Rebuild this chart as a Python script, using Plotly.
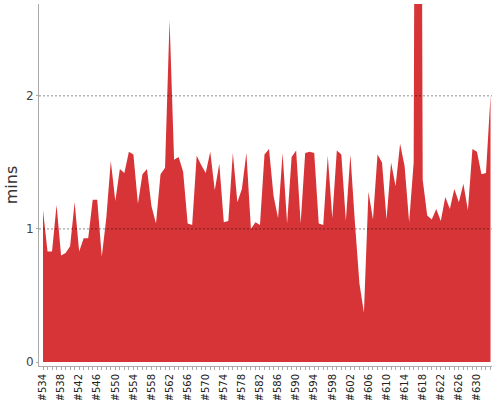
import plotly.graph_objects as go

builds = ["#%d" % n for n in range(534, 634)]
durations = [
    1.14, 0.83, 0.83, 1.18, 0.80, 0.82, 0.87, 1.20, 0.83, 0.93,
    0.93, 1.22, 1.22, 0.79, 1.08, 1.51, 1.21, 1.45, 1.42, 1.58,
    1.56, 1.19, 1.41, 1.45, 1.17, 1.04, 1.41, 1.46, 2.57, 1.52,
    1.54, 1.43, 1.04, 1.03, 1.55, 1.48, 1.42, 1.58, 1.29, 1.49,
    1.05, 1.06, 1.57, 1.20, 1.30, 1.57, 1.00, 1.05, 1.03, 1.56,
    1.60, 1.25, 1.08, 1.57, 1.04, 1.54, 1.59, 1.04, 1.57, 1.58,
    1.57, 1.04, 1.03, 1.55, 1.08, 1.59, 1.56, 1.06, 1.56, 1.05,
    0.59, 0.37, 1.28, 1.07, 1.56, 1.50, 1.07, 1.50, 1.32, 1.64,
    1.47, 1.05, 1.50, 12.0, 1.37, 1.10, 1.07, 1.15, 1.06, 1.24,
    1.15, 1.30, 1.20, 1.34, 1.14, 1.60, 1.58, 1.41, 1.42, 2.00,
]
y_ticks = [0, 1, 2]
label_every = 4

fig = go.Figure()
fig.add_trace(go.Scatter(
    x=builds, y=durations, mode="none", fill="tozeroy",
    fillcolor="#d73437", hoverinfo="skip",
))

for v in y_ticks[1:]:
    fig.add_shape(type="line", xref="paper", x0=0, x1=1, yref="y", y0=v, y1=v,
                  line=dict(color="rgba(0,0,0,0.45)", width=1, dash="2px,2px"),
                  layer="above")

fig.update_layout(
    width=500, height=400,
    margin=dict(l=39, r=8, t=4, b=34),
    paper_bgcolor="white", plot_bgcolor="white",
    showlegend=False,
    font=dict(family="DejaVu Sans", color="#444"),
)
fig.update_xaxes(
    type="category",
    automargin=False,
    range=[-0.885, 99.33],
    tickmode="array",
    tickvals=builds,
    ticktext=[b if i % label_every == 0 else "" for i, b in enumerate(builds)],
    tickangle=-90,
    tickfont=dict(size=10, color="#222"),
    ticks="outside", ticklen=3, tickcolor="#aaa",
    showline=True, linecolor="#aaa", linewidth=1,
    showgrid=False, zeroline=False,
)
fig.update_yaxes(
    automargin=False,
    range=[-0.03, 2.69],
    tickmode="array", tickvals=y_ticks,
    tickfont=dict(size=12, color="#444"),
    ticks="outside", ticklen=2, tickcolor="#aaa",
    showline=True, linecolor="#aaa", linewidth=1,
    showgrid=False, zeroline=False,
    title=dict(text="mins", font=dict(size=16, color="#333"), standoff=4),
)

fig.write_html("out.html")
